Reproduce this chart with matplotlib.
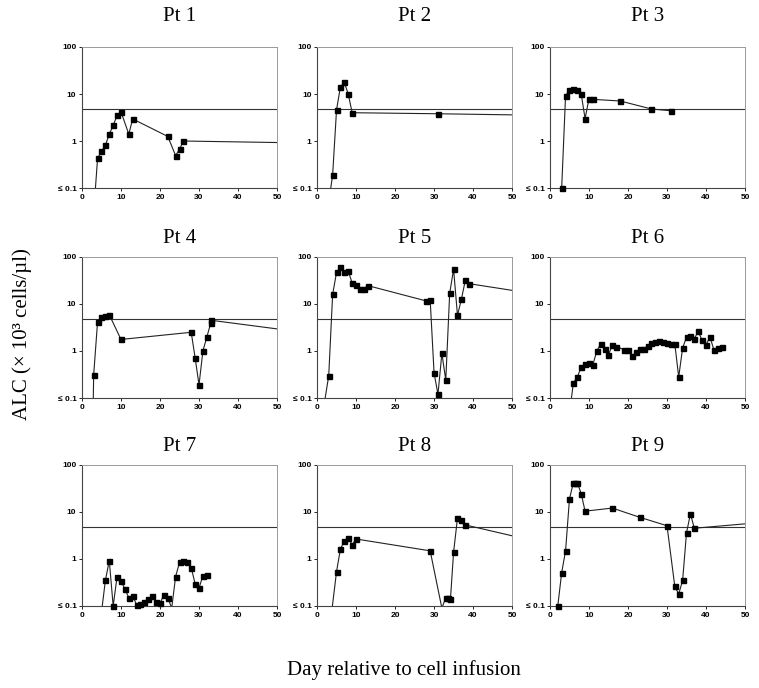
import matplotlib
matplotlib.use('Agg')
import matplotlib.pyplot as plt

# ALC per patient (x10^3 cells/ul); values under 0.1 or past day 50 only steer the line
pt1_day = [3, 4, 5, 6, 7, 8, 9, 10, 12, 13, 22, 24, 25, 26, 60]
pt1_alc = [0.03, 0.43, 0.6, 0.81, 1.4, 2.15, 3.5, 4.2, 1.4, 2.95, 1.25, 0.49, 0.67, 1.0, 0.9]

pt2_day = [3, 4, 5, 6, 7, 8, 9, 31, 60]
pt2_alc = [0.05, 0.19, 4.6, 14.3, 17.7, 10, 4.0, 3.8, 3.5]

pt3_day = [3, 4, 5, 6, 7, 8, 9, 10, 11, 18, 26, 31]
pt3_alc = [0.1, 9.2, 12.2, 13, 12.2, 10, 3.0, 7.9, 7.7, 7.1, 4.8, 4.4]

pt4_day = [2.7, 3, 4, 5, 6, 7, 10, 28, 29, 30, 31, 32, 33, 33.1, 60]
pt4_alc = [0.01, 0.31, 4.2, 5.2, 5.6, 5.9, 1.76, 2.5, 0.72, 0.19, 1.0, 1.98, 3.9, 4.5, 2.3]

pt5_day = [2, 3, 4, 5, 6, 7, 8, 9, 10, 11, 12, 13, 28, 29, 30, 31, 32, 33, 34, 35, 36, 37, 38, 39, 60]
pt5_alc = [0.09, 0.30, 16, 47, 60, 48, 50, 28, 25, 20.4, 21, 24.6, 11.6, 12.3, 0.34, 0.12, 0.89, 0.24,
           16.8, 55, 5.7, 12.6, 31.6, 27, 14.5]

pt6_day = [5, 6, 7, 8, 9, 10, 11, 12, 13, 14, 15, 16, 17, 19, 20, 21, 22, 23, 24, 25, 26, 27, 28,
           29, 30, 31, 32, 33, 34, 35, 36, 37, 38, 39, 40, 41, 42, 43, 44]
pt6_alc = [0.047, 0.21, 0.28, 0.45, 0.53, 0.56, 0.51, 1.0, 1.41, 1.1, 0.83, 1.35, 1.24, 1.07, 1.07,
           0.77, 0.94, 1.1, 1.1, 1.28, 1.49, 1.53, 1.67, 1.53, 1.51, 1.41, 1.41, 0.28, 1.16, 1.97,
           2.1, 1.84, 2.6, 1.69, 1.35, 2.0, 1.07, 1.16, 1.22]

pt7_day = [5, 6, 7, 8, 9, 10, 11, 12, 13, 14, 15, 16, 17, 18, 19, 20, 21, 22, 23, 24, 25, 26, 27,
           28, 29, 30, 31, 32]
pt7_alc = [0.073, 0.35, 0.92, 0.1, 0.42, 0.34, 0.23, 0.15, 0.165, 0.106, 0.11, 0.123, 0.14, 0.165,
           0.123, 0.114, 0.174, 0.15, 0.09, 0.42, 0.85, 0.89, 0.85, 0.65, 0.30, 0.24, 0.44, 0.46]

pt8_day = [3.8, 5, 6, 7, 8, 9, 10, 29, 32, 33, 33.6, 34.2, 35, 36, 37, 38, 60]
pt8_alc = [0.08, 0.54, 1.64, 2.4, 2.8, 2.0, 2.66, 1.49, 0.09, 0.15, 0.145, 0.14, 1.39, 7.4, 6.8,
           5.3, 2.0]

pt9_day = [2, 3, 4, 5, 6, 6.5, 7, 8, 9, 16, 23, 30, 32, 33, 34, 35, 36, 37, 60]
pt9_alc = [0.1, 0.51, 1.5, 19, 42, 42, 42, 24.6, 10.4, 12.1, 7.7, 5.1, 0.26, 0.18, 0.35, 3.6, 9.1,
           4.5, 6.6]

titles = ['Pt 1', 'Pt 2', 'Pt 3', 'Pt 4', 'Pt 5', 'Pt 6', 'Pt 7', 'Pt 8', 'Pt 9']
days = [pt1_day, pt2_day, pt3_day, pt4_day, pt5_day, pt6_day, pt7_day, pt8_day, pt9_day]
alcs = [pt1_alc, pt2_alc, pt3_alc, pt4_alc, pt5_alc, pt6_alc, pt7_alc, pt8_alc, pt9_alc]
normal_alc = 4.7

y_ticks = [0.1, 1, 10, 100]
y_labels = ['\u2264 0.1', '1', '10', '100']
x_ticks = [0, 10, 20, 30, 40, 50]

serif = ['Liberation Serif', 'DejaVu Serif']
sans = ['Liberation Sans', 'DejaVu Sans']

fig = plt.figure(figsize=(7.59, 6.88), dpi=100)

lefts = [0.108, 0.4177, 0.7246]
bottoms = [0.7267, 0.4215, 0.1192]
w = 0.257
h = 0.205
title_pad = [19, 10, 10]

for i in range(9):
    r, c = divmod(i, 3)
    ax = fig.add_axes([lefts[c], bottoms[r], w, h])
    ax.set_yscale('log')
    ax.set_xlim(0, 50)
    ax.set_ylim(0.1, 100)
    ax.axhline(normal_alc, color='#333333', lw=0.8, zorder=1)
    ax.plot(days[i], alcs[i], color='#222222', lw=0.8, zorder=2)
    # markers only for readable points inside the plot
    mx = [d for d, v in zip(days[i], alcs[i]) if v >= 0.1 and d <= 50]
    my = [v for d, v in zip(days[i], alcs[i]) if v >= 0.1 and d <= 50]
    ax.plot(mx, my, ls='none', marker='s', ms=3.6, color='black', clip_on=False, zorder=3)

    ax.set_yticks(y_ticks)
    ax.set_yticklabels(y_labels)
    ax.minorticks_off()
    ax.set_xticks(x_ticks)
    ax.tick_params(direction='out', length=2, width=0.6, labelsize=6, pad=2)
    for lab in ax.get_xticklabels() + ax.get_yticklabels():
        lab.set_family(sans)
        lab.set_fontweight('bold')
    for s in ['top', 'right']:
        ax.spines[s].set_color('#999999')
        ax.spines[s].set_linewidth(0.7)
    for s in ['left', 'bottom']:
        ax.spines[s].set_color('#444444')
        ax.spines[s].set_linewidth(0.8)
    ax.set_title(titles[i], family=serif, fontsize=15, pad=title_pad[r])

fig.text(0.029, 0.515, 'ALC (\u00d7 10\u00b3 cells/\u00b5l)', rotation=90, ha='center', va='center',
         family=serif, fontsize=15)
fig.text(0.532, 0.026, 'Day relative to cell infusion', ha='center', va='center',
         family=serif, fontsize=15)

fig.savefig('out.png', dpi=100)
